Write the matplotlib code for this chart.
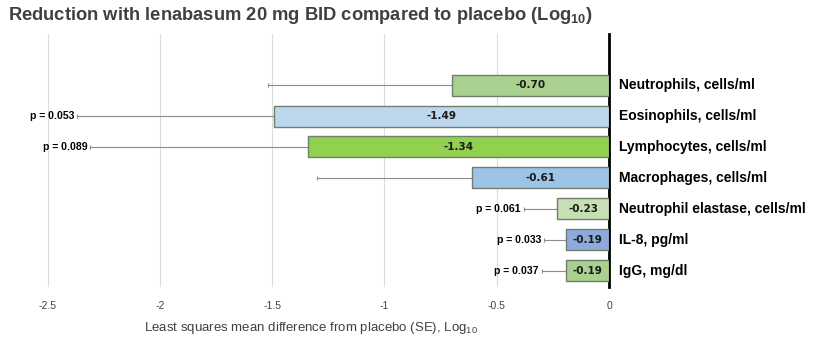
import numpy as np
import matplotlib.pyplot as plt

categories = ['Neutrophils, cells/ml', 'Eosinophils, cells/ml', 'Lymphocytes, cells/ml',
              'Macrophages, cells/ml', 'Neutrophil elastase, cells/ml', 'IL-8, pg/ml', 'IgG, mg/dl']
values = [-0.70, -1.49, -1.34, -0.61, -0.23, -0.19, -0.19]
se = [0.82, 0.88, 0.97, 0.69, 0.15, 0.10, 0.11]
p_values = ['', 'p = 0.053', 'p = 0.089', '', 'p = 0.061', 'p = 0.033', 'p = 0.037']
colors = ['#a9d08e', '#bdd7ee', '#92d050', '#9dc3e6', '#c6e0b4', '#8eaadb', '#a9d08e']
xticks = [-2.5, -2, -1.5, -1, -0.5, 0]

if __name__ == '__main__':
    plt.rcParams['font.family'] = ['Liberation Sans', 'DejaVu Sans']
    plt.rcParams['mathtext.default'] = 'regular'

    fig = plt.figure(figsize=(8.21, 3.37), dpi=100)
    ax = fig.add_axes([0.0305, 0.148, 0.7113, 0.751])
    y = np.arange(len(categories))

    ax.barh(y, values, height=0.68, color=colors, edgecolor='#6f7f6f', lw=1.0, zorder=3)
    ax.errorbar(values, y, xerr=[se, np.zeros(len(se))], fmt='none', ecolor='#8c8c8c',
                elinewidth=0.8, capsize=1.5, capthick=0.8, zorder=2)

    ax.set_xlim(-2.6, 0)
    ax.set_ylim(6.53, -1.65)
    ax.set_xticks(xticks)
    ax.set_xticklabels(['-2.5', '-2', '-1.5', '-1', '-0.5', '0'], fontsize=7.5, color='#404040')
    ax.tick_params(axis='x', length=0, pad=10)
    ax.set_yticks([])
    for s in ['top', 'left', 'bottom']:
        ax.spines[s].set_visible(False)
    ax.spines['right'].set_linewidth(2)
    ax.spines['right'].set_color('black')
    ax.grid(axis='x', color='#dcdcdc', lw=0.8, zorder=0)

    for i, v in enumerate(values):
        ax.text(v / 2, i, '%.2f' % v, ha='center', va='center', fontsize=7.5,
                fontweight='bold', family='DejaVu Sans', color='#1a1a1a', zorder=4)
        ax.annotate(categories[i], xy=(0, i), xytext=(7, 0), textcoords='offset points',
                    ha='left', va='center', fontsize=10, fontweight='bold', annotation_clip=False)
        if p_values[i]:
            ax.annotate(p_values[i], xy=(v - se[i], i), xytext=(-2, 0), textcoords='offset points',
                        ha='right', va='center', fontsize=7.6, fontweight='bold', annotation_clip=False)

    ax.set_xlabel('Least squares mean difference from placebo (SE), Log$_{10}$', fontsize=9.5,
                  color='#404040', family=['Liberation Sans Narrow', 'Liberation Sans'], labelpad=10)
    ax.xaxis.set_label_coords(0.49, -0.13)

    fig.text(0.01, 0.955, 'Reduction with lenabasum 20 mg BID compared to placebo (Log$_{10}$)',
             fontsize=13.2, fontweight='bold', color='#404040', va='center')

    fig.savefig('out.png', dpi=100)
